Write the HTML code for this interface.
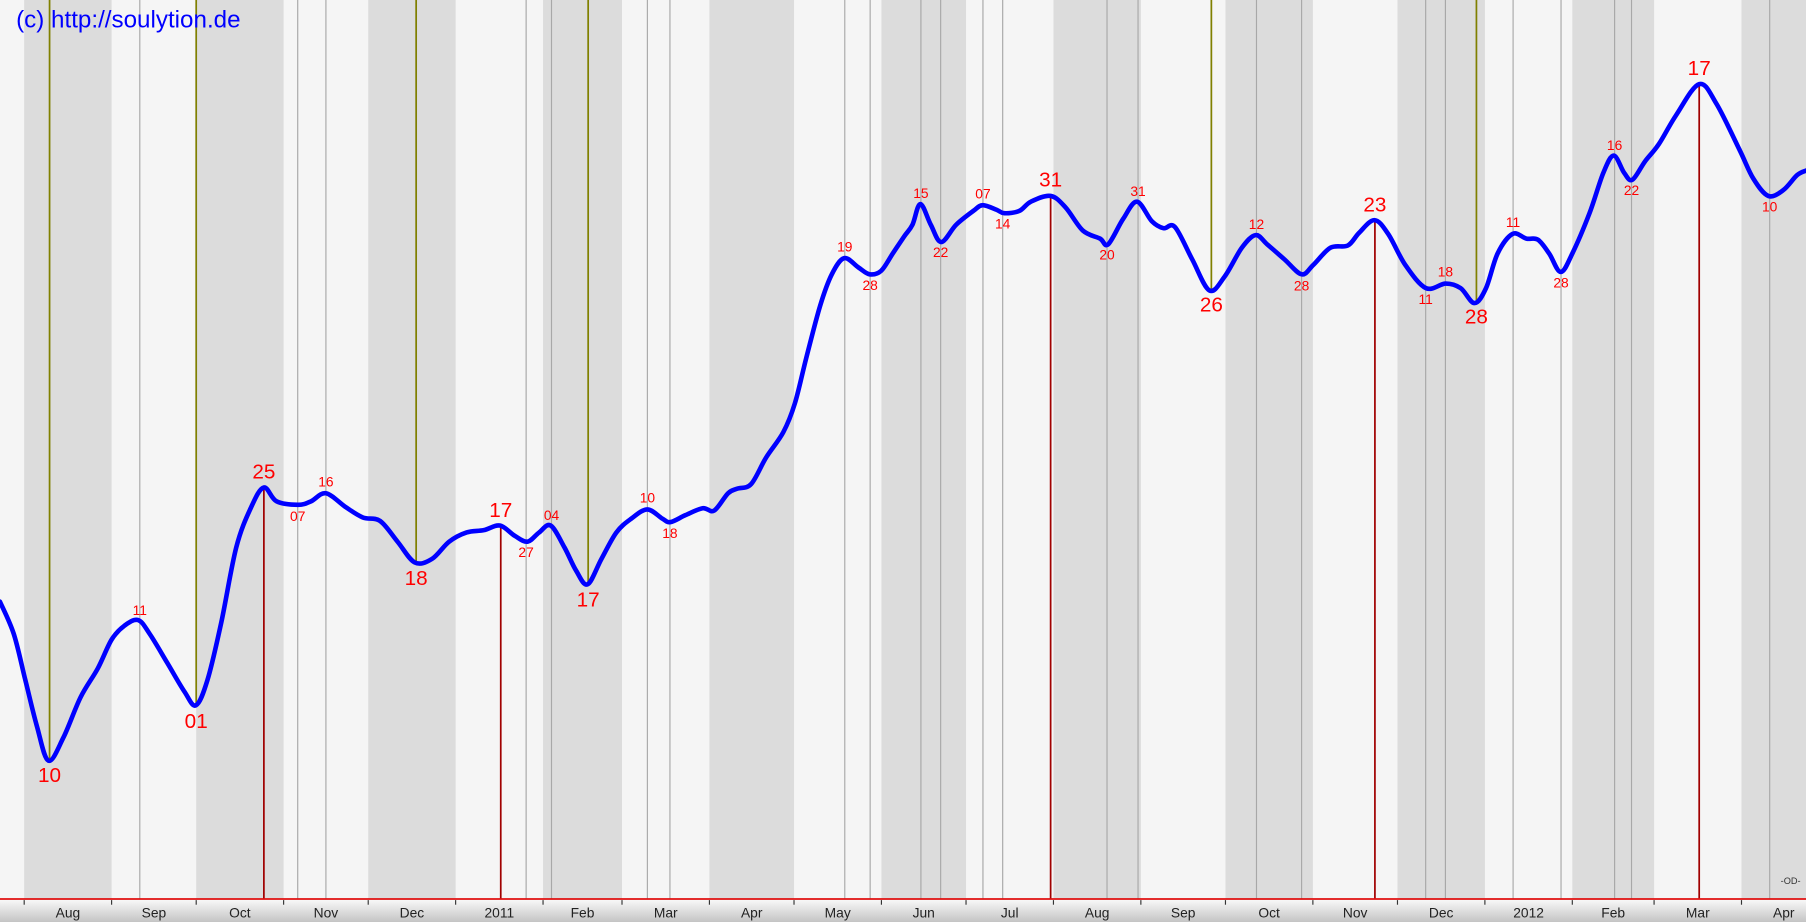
<!DOCTYPE html>
<html><head><meta charset="utf-8"><style>
html,body{margin:0;padding:0;background:#f5f5f5;overflow:hidden}
svg{display:block}
text{font-family:"Liberation Sans",sans-serif}
</style></head><body>
<svg id="chart" width="1806" height="922" viewBox="0 0 1568 800" preserveAspectRatio="none" xmlns="http://www.w3.org/2000/svg">
<g id="bands"></g>
<g id="vlines"></g>
<path id="line" fill="none" stroke="#0000ff" stroke-width="4" stroke-linejoin="round" stroke-linecap="round"/>
<g id="labels"></g>
<defs><linearGradient id="axg" x1="0" y1="0" x2="0" y2="1"><stop offset="0" stop-color="#fafafa"/><stop offset="1" stop-color="#c4c4c4"/></linearGradient></defs>
<rect x="0" y="780" width="1568" height="20" fill="url(#axg)"/>
<line x1="0" y1="780" x2="1568" y2="780" stroke="#e01010" stroke-width="1.5"/>
<g id="axis"></g>
<text x="14" y="24" font-size="21" fill="#0000ff">(c) http://soulytion.de</text>
<text x="1546" y="767" font-size="8" fill="#333">-OD-</text>
</svg>
<script>
// days since 2010-08-01
const days=[-8.6,-3.7,0.4,4.5,8.6,13.9,20,26.1,31,35.5,40.4,44.5,50.7,56.8,60.9,65,69.9,75.2,80.5,85,89.5,97.2,101.7,107,114,120.1,126.2,132.4,138.5,144.6,150.7,156.9,163,168.7,174,178.5,182.6,186.7,191.6,195.7,199.8,204.7,210,215.3,221,226.3,229.2,234.5,240.6,244.7,249.6,252.9,257.8,263.1,269.2,273.3,277.4,282.3,286.4,290.8,295.8,299.8,303.9,308,312.1,315,317.8,321.5,325.2,330.5,336.6,339.9,344.8,347.6,352.9,357,364,369.3,375.4,381.5,384.4,389.7,394.6,399.9,404,408.1,414.2,420.3,425.7,431.8,436.7,440.8,446.9,453,457.1,463.2,469.4,473.4,478.8,483.7,489.8,497.1,504.1,509.4,514.3,518.4,522.5,527.8,532.7,536.8,540.8,544.9,549,555.1,560,563.7,567.4,570.3,574.8,579.7,585.8,594,600.1,608.3,613.2,618.5,623.8,628.7,631.9];
const ypix=[522,550,590,630,660,640,605,580,555,543,538,550,575,600,612,590,540,475,440,423,435,438,435,428,440,449,452,470,488,485,470,462,460,456,465,470,462,456,475,495,507,485,462,450,442,450,453,447,441,443,428,424,420,397,375,350,310,265,238,224,232,238,235,220,205,195,177,195,210,195,183,178,182,185,183,175,170,180,200,207,212,190,175,192,198,197,225,252,240,215,204,212,225,238,230,215,213,202,191,203,230,250,246,250,263,250,220,203,207,208,220,236,220,185,150,135,150,156,140,125,100,73,90,130,155,170,165,152,148];
const values=ypix.map(y=>780-y);
const monthLabels=["Aug","Sep","Oct","Nov","Dec","2011","Feb","Mar","Apr","May","Jun","Jul","Aug","Sep","Oct","Nov","Dec","2012","Feb","Mar","Apr"];
const monthStarts=[0,31,61,92,122,153,184,212,243,273,304,334,365,396,426,457,487,518,549,578,609,639];
const extDays=[9,41,61,85,97,107,139,169,178,187,200,221,229,291,300,318,325,340,347,364,384,395,421,437,453,479,497,504,515,528,545,564,570,594,619];
const extLabels=["10","11","01","25","07","16","18","17","27","04","17","10","18","19","28","15","22","07","14","31","20","31","26","12","28","23","11","18","28","11","28","16","22","17","10"];
const extMajor=[1,0,1,1,0,0,1,1,0,0,1,0,0,0,0,0,0,0,0,1,0,0,1,0,0,1,0,0,1,0,0,0,0,1,0];
const extPeak=[0,1,0,1,0,1,0,1,0,1,0,1,0,1,0,1,0,1,0,1,0,1,0,1,0,1,0,1,0,1,0,1,0,1,0];

const X0=21,PX=1491/609;
const x=d=>X0+d*PX, y=v=>780-v;
const NS="http://www.w3.org/2000/svg";
function mk(t,a,p){const e=document.createElementNS(NS,t);for(const k in a)e.setAttribute(k,a[k]);p.appendChild(e);return e;}
const bands=document.getElementById('bands'),axis=document.getElementById('axis');
mk('rect',{x:0,y:0,width:1568,height:780,fill:'#f5f5f5'},bands);
for(let i=0;i<monthLabels.length;i++){
  const a=x(monthStarts[i]),b=x(monthStarts[i+1]);
  if(i%2===0){const r=mk('rect',{x:a,y:0,width:b-a,height:780,fill:'#dcdcdc'},bands);
    
    }
  const tk=mk('line',{x1:a,y1:781,x2:a,y2:785,stroke:'#333','stroke-width':1},axis);
  
  
  const t=mk('text',{x:(a+b)/2,y:796,'font-size':12,'text-anchor':'middle',fill:'#222'},axis);
  t.textContent=monthLabels[i];
  
  
}
const pts=days.map((d,i)=>[x(d),y(values[i])]);
function interp(d){for(let i=0;i<days.length-1;i++)if(d>=days[i]&&d<=days[i+1]){const f=(d-days[i])/(days[i+1]-days[i]);return values[i]+f*(values[i+1]-values[i]);}return values[values.length-1];}
let p='M'+pts[0][0]+','+pts[0][1];
for(let i=0;i<pts.length-1;i++){const p0=pts[Math.max(0,i-1)],p1=pts[i],p2=pts[i+1],p3=pts[Math.min(pts.length-1,i+2)];
p+=' C'+(p1[0]+(p2[0]-p0[0])/6)+','+(p1[1]+(p2[1]-p0[1])/6)+' '+(p2[0]-(p3[0]-p1[0])/6)+','+(p2[1]-(p3[1]-p1[1])/6)+' '+p2[0]+','+p2[1];}
document.getElementById('line').setAttribute('d',p);
const vl=document.getElementById('vlines'),lb=document.getElementById('labels');
for(let i=0;i<extDays.length;i++){
  const ex=x(extDays[i]),ey=y(interp(extDays[i]));
  let ln;
  if(!extMajor[i]) ln=mk('line',{x1:ex,y1:0,x2:ex,y2:780,stroke:'#a8a8a8','stroke-width':1},vl);
  else if(extPeak[i]) ln=mk('line',{x1:ex,y1:ey,x2:ex,y2:780,stroke:'#a00000','stroke-width':1.5},vl);
  else ln=mk('line',{x1:ex,y1:0,x2:ex,y2:ey,stroke:'#808000','stroke-width':1.5},vl);
  
  
  const fs=extMajor[i]?18:12;
  const ty=extPeak[i]?ey-(extMajor[i]?8:6):ey+(extMajor[i]?20:14);
  const t=mk('text',{x:ex,y:ty,'font-size':fs,'text-anchor':'middle',fill:'#ff0000'},lb);
  t.textContent=extLabels[i];
  
  
}
</script>
</body></html>
